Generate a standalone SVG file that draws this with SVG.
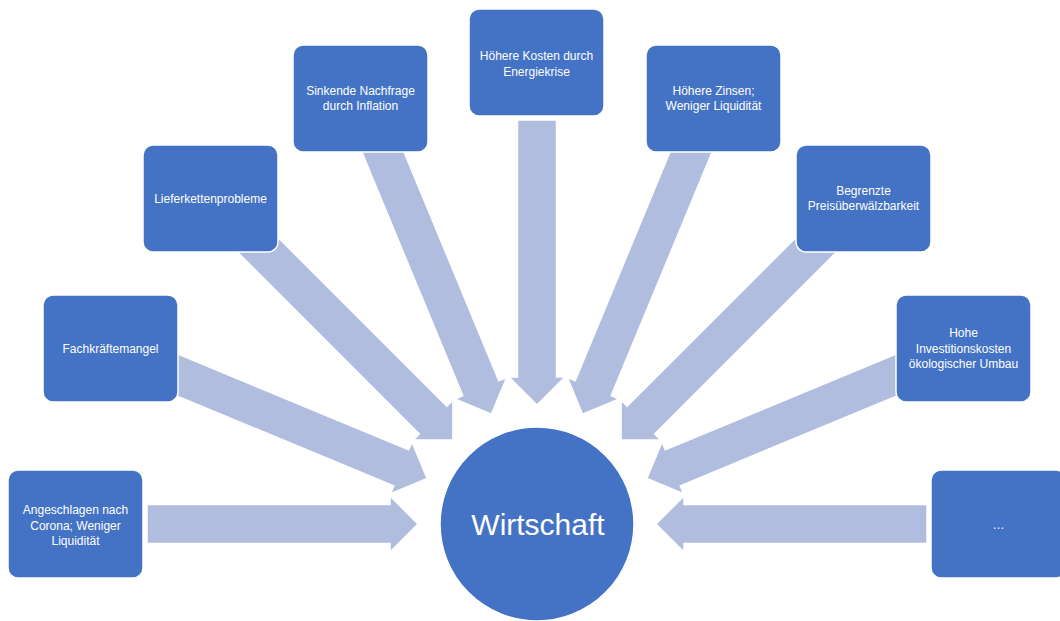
<svg xmlns="http://www.w3.org/2000/svg" width="1060" height="621" viewBox="0 0 1060 621">
<style>
.box{fill:#4472C4;stroke:#FFFFFF;stroke-width:1.5}
.arr{fill:#B0BDDF;stroke:#FFFFFF;stroke-width:1.5;stroke-linejoin:miter}
.t{font-family:"Liberation Sans",Arial,sans-serif;font-size:12px;fill:#FFFFFF;text-anchor:middle}
.big{font-family:"Liberation Sans",Arial,sans-serif;font-size:30px;fill:#FFFFFF;text-anchor:middle}
</style>
<rect width="1060" height="621" fill="#FFFFFF"/>
<g id="connectors">
<polygon class="arr" transform="translate(418,524) rotate(0)" points="-271,-19.5 -28,-19.5 -28,-28 0,0 -28,28 -28,19.5 -271,19.5"/>
<polygon class="arr" transform="translate(427.1,478.5) rotate(22.5)" points="-300,-19.5 -28,-19.5 -28,-28 0,0 -28,28 -28,19.5 -300,19.5"/>
<polygon class="arr" transform="translate(452.9,439.9) rotate(45)" points="-300,-19.5 -28,-19.5 -28,-28 0,0 -28,28 -28,19.5 -300,19.5"/>
<polygon class="arr" transform="translate(491.5,414.1) rotate(67.5)" points="-300,-19.5 -28,-19.5 -28,-28 0,0 -28,28 -28,19.5 -300,19.5"/>
<polygon class="arr" transform="translate(537,405) rotate(90)" points="-285,-19.5 -28,-19.5 -28,-28 0,0 -28,28 -28,19.5 -285,19.5"/>
<polygon class="arr" transform="translate(582.5,414.1) rotate(112.5)" points="-300,-19.5 -28,-19.5 -28,-28 0,0 -28,28 -28,19.5 -300,19.5"/>
<polygon class="arr" transform="translate(621.1,439.9) rotate(135)" points="-300,-19.5 -28,-19.5 -28,-28 0,0 -28,28 -28,19.5 -300,19.5"/>
<polygon class="arr" transform="translate(646.9,478.5) rotate(157.5)" points="-300,-19.5 -28,-19.5 -28,-28 0,0 -28,28 -28,19.5 -300,19.5"/>
<polygon class="arr" transform="translate(656,524) rotate(180)" points="-271,-19.5 -28,-19.5 -28,-28 0,0 -28,28 -28,19.5 -271,19.5"/>
</g>
<g id="center">
<circle cx="537" cy="524" r="97" class="box"/>
<text class="big" x="538" y="535">Wirtschaft</text>
</g>
<g id="n1">
<rect class="box" x="8" y="470" width="135" height="108" rx="10"/>
<text class="t" x="75.5" y="514">Angeschlagen nach</text>
<text class="t" x="75.5" y="529.5">Corona; Weniger</text>
<text class="t" x="75.5" y="545">Liquidität</text>
</g>
<g id="n2">
<rect class="box" x="43" y="295" width="135" height="107" rx="10"/>
<text class="t" x="110.5" y="353">Fachkräftemangel</text>
</g>
<g id="n3">
<rect class="box" x="143" y="145" width="135" height="107" rx="10"/>
<text class="t" x="210.5" y="203">Lieferkettenprobleme</text>
</g>
<g id="n4">
<rect class="box" x="293" y="45" width="135" height="107" rx="10"/>
<text class="t" x="360.5" y="94.5">Sinkende Nachfrage</text>
<text class="t" x="360.5" y="110">durch Inflation</text>
</g>
<g id="n5">
<rect class="box" x="469" y="9" width="135" height="107" rx="10"/>
<text class="t" x="536.5" y="60">Höhere Kosten durch</text>
<text class="t" x="536.5" y="75.5">Energiekrise</text>
</g>
<g id="n6">
<rect class="box" x="646" y="45" width="135" height="107" rx="10"/>
<text class="t" x="713.5" y="94.5">Höhere Zinsen;</text>
<text class="t" x="713.5" y="110">Weniger Liquidität</text>
</g>
<g id="n7">
<rect class="box" x="796" y="145" width="135" height="107" rx="10"/>
<text class="t" x="863.5" y="194.5">Begrenzte</text>
<text class="t" x="863.5" y="210">Preisüberwälzbarkeit</text>
</g>
<g id="n8">
<rect class="box" x="896" y="295" width="135" height="107" rx="10"/>
<text class="t" x="963.5" y="337">Hohe</text>
<text class="t" x="963.5" y="352.5">Investitionskosten</text>
<text class="t" x="963.5" y="368">ökologischer Umbau</text>
</g>
<g id="n9">
<rect class="box" x="931" y="470" width="135" height="108" rx="10"/>
<text class="t" x="998.5" y="529">…</text>
</g>
</svg>
